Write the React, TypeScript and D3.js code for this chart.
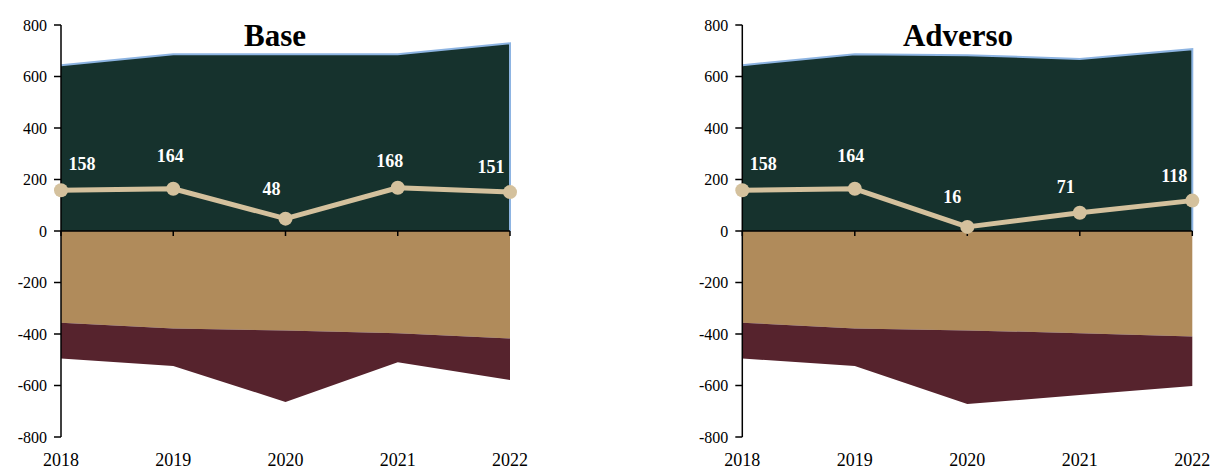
import React from "react";
import * as d3 from "d3";

const years = ["2018", "2019", "2020", "2021", "2022"];
const yTicks = [800, 600, 400, 200, 0, -200, -400, -600, -800];

// Base scenario
const baseTop = [644, 686, 686, 686, 729];
const baseTan = [-356, -379, -386, -397, -417];
const baseMaroon = [-139, -145, -278, -113, -162];
const baseLine = [158, 164, 48, 168, 151];

// Adverse scenario
const advTop = [644, 686, 683, 668, 706];
const advTan = [-356, -379, -386, -397, -410];
const advMaroon = [-139, -145, -286, -240, -192];
const advLine = [158, 164, 16, 71, 118];

// label nudges (layout only)
const baseLabelNudge: [number, number][] = [[21, -20], [-3, -27], [-14, -24], [-8, -21], [-19, -19]];
const advLabelNudge: [number, number][] = [[21, -20], [-4, -27], [-15, -24], [-14, -20], [-18, -19]];

const C_GREEN = "#16322d";
const C_TAN = "#b08b5b";
const C_MAROON = "#56232d";
const C_LINE = "#d4c19d";
const C_BLUE = "#8db4e2";
const FONT = "'Liberation Serif', 'Times New Roman', serif";

type PanelProps = {
  title: string;
  x0: number;
  x1: number;
  titleX: number;
  top: number[];
  tan: number[];
  maroon: number[];
  line: number[];
  nudge: [number, number][];
};

function Panel({ title, x0, x1, titleX, top, tan, maroon, line, nudge }: PanelProps) {
  const x = d3.scalePoint<string>().domain(years).range([x0, x1]);
  const y = d3.scaleLinear().domain([-800, 800]).range([437, 25]);
  const xs = (i: number) => x(years[i]) as number;

  const areaTop = d3.area<number>().x((_, i) => xs(i)).y0(y(0)).y1((d) => y(d));
  const tanArea = d3.area<number>().x((_, i) => xs(i)).y0(y(0)).y1((d) => y(d));
  const maroonArea = d3
    .area<number>()
    .x((_, i) => xs(i))
    .y0((_, i) => y(tan[i]))
    .y1((d, i) => y(tan[i] + d));
  const topEdge = d3.line<number>().x((_, i) => xs(i)).y((d) => y(d));
  const lineGen = d3.line<number>().x((_, i) => xs(i)).y((d) => y(d));

  const n = years.length;
  const edgePath =
    (topEdge(top) as string) + `L${xs(n - 1)},${y(0)}`;

  return (
    <g>
      <path d={areaTop(top) as string} fill={C_GREEN} />
      <path d={edgePath} fill="none" stroke={C_BLUE} strokeWidth={2} />
      <path d={tanArea(tan) as string} fill={C_TAN} />
      <path d={maroonArea(maroon) as string} fill={C_MAROON} />
      {/* y axis */}
      <line x1={x0} x2={x0} y1={y(800)} y2={y(-800)} stroke="#000" strokeWidth={1.5} />
      {yTicks.map((t) => (
        <g key={t}>
          <line x1={x0 - 7} x2={x0} y1={y(t)} y2={y(t)} stroke="#000" strokeWidth={1.5} />
          <text
            x={x0 - 14}
            y={y(t)}
            dy="0.35em"
            textAnchor="end"
            fontFamily={FONT}
            fontSize={16}
            fill="#000"
          >
            {t}
          </text>
        </g>
      ))}
      {/* x axis at zero */}
      <line x1={x0} x2={x1} y1={y(0)} y2={y(0)} stroke="#000" strokeWidth={1.5} />
      {years.map((yr, i) => (
        <g key={yr}>
          <line x1={xs(i)} x2={xs(i)} y1={y(0)} y2={y(0) + 5} stroke="#000" strokeWidth={1.5} />
          <text
            x={xs(i)}
            y={466}
            textAnchor="middle"
            fontFamily={FONT}
            fontSize={18}
            fill="#000"
          >
            {yr}
          </text>
        </g>
      ))}
      {/* line series */}
      <path d={lineGen(line) as string} fill="none" stroke={C_LINE} strokeWidth={5} strokeLinejoin="round" />
      {line.map((v, i) => (
        <circle key={i} cx={xs(i)} cy={y(v)} r={7} fill={C_LINE} />
      ))}
      {line.map((v, i) => (
        <text
          key={"l" + i}
          x={xs(i) + nudge[i][0]}
          y={y(v) + nudge[i][1]}
          textAnchor="middle"
          fontFamily={FONT}
          fontWeight="bold"
          fontSize={18}
          fill="#ffffff"
        >
          {v}
        </text>
      ))}
      <text
        x={titleX}
        y={45.5}
        textAnchor="middle"
        fontFamily={FONT}
        fontWeight="bold"
        fontSize={31}
        fill="#000"
      >
        {title}
      </text>
    </g>
  );
}

export default function App() {
  return (
    <svg
      width={1213}
      height={469}
      style={{ position: "absolute", left: 0, top: 0, display: "block", background: "#fff" }}
    >
      <Panel
        title="Base"
        x0={61}
        x1={510}
        titleX={275}
        top={baseTop}
        tan={baseTan}
        maroon={baseMaroon}
        line={baseLine}
        nudge={baseLabelNudge}
      />
      <Panel
        title="Adverso"
        x0={742.3}
        x1={1192.3}
        titleX={958}
        top={advTop}
        tan={advTan}
        maroon={advMaroon}
        line={advLine}
        nudge={advLabelNudge}
      />
    </svg>
  );
}
